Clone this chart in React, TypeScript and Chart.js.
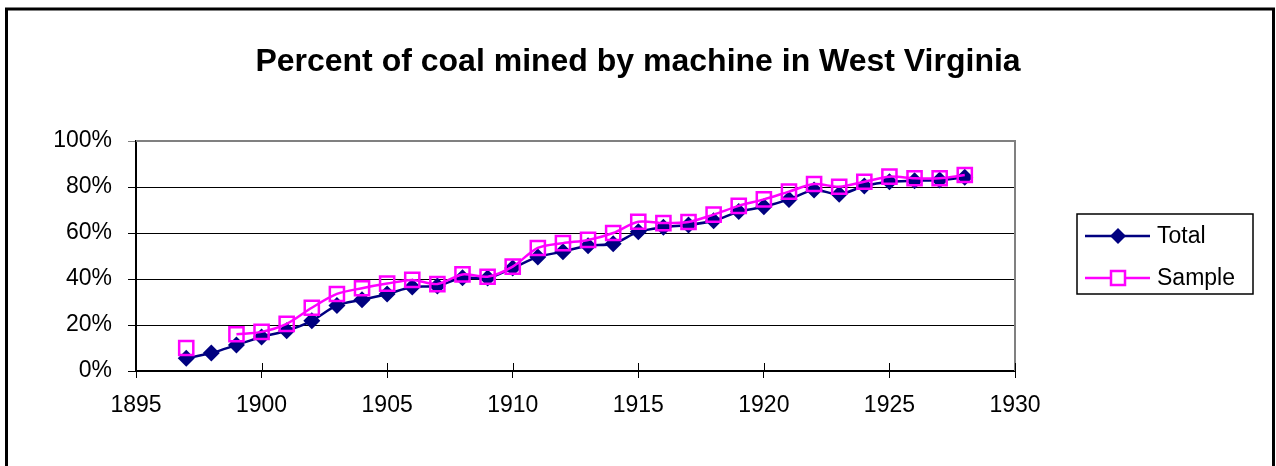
import React, { useEffect, useRef } from 'react';
import { Chart, registerables } from 'chart.js';

Chart.register(...registerables);

const TITLE = 'Percent of coal mined by machine in West Virginia';
const SERIES_NAMES = ['Total', 'Sample'];
const YEARS = [
  1897, 1898, 1899, 1900, 1901, 1902, 1903, 1904, 1905, 1906, 1907, 1908, 1909, 1910, 1911, 1912,
  1913, 1914, 1915, 1916, 1917, 1918, 1919, 1920, 1921, 1922, 1923, 1924, 1925, 1926, 1927, 1928,
];
const TOTAL = [
  5.5, 7.8, 11.3, 14.8, 17.5, 21.8, 28.5, 31, 33.5, 36.5, 37, 40.5, 40.4, 44.8, 49.6, 51.9,
  54.5, 55.3, 60.5, 62.5, 63.5, 65.3, 69.3, 71.4, 74.6, 78.7, 76.8, 80.4, 82.3, 82.7, 83, 84.2,
];
const SAMPLE = [
  10, null, 16, 17, 20.5, 27.5, 33.5, 36, 38, 39.6, 37.8, 42, 41, 45.4, 53.5, 55.6,
  57, 60, 64.9, 64.3, 64.8, 68, 71.8, 74.6, 78, 81.3, 80.1, 82.3, 84.5, 83.8, 83.8, 85.2,
];
const X_TICKS = [1895, 1900, 1905, 1910, 1915, 1920, 1925, 1930];
const Y_TICKS = [0, 20, 40, 60, 80, 100];

const NAVY = '#000080';
const MAGENTA = '#FF00FF';
const FONT = "'Liberation Sans', Arial, sans-serif";

const decorPlugin = {
  id: 'decor',
  beforeDraw(chart: any) {
    const ctx = chart.ctx;
    ctx.save();
    ctx.fillStyle = '#ffffff';
    ctx.fillRect(0, 0, chart.width, chart.height);
    ctx.strokeStyle = '#000000';
    ctx.lineWidth = 3;
    ctx.strokeRect(6.5, 9, 1267, 480);
    ctx.restore();
  },
  beforeDatasetsDraw(chart: any) {
    const ctx = chart.ctx;
    const a = chart.chartArea;
    const x = chart.scales.x;
    ctx.save();
    ctx.strokeStyle = '#808080';
    ctx.lineWidth = 2;
    ctx.beginPath();
    ctx.moveTo(a.left, a.top);
    ctx.lineTo(a.right, a.top);
    ctx.lineTo(a.right, a.bottom);
    ctx.stroke();
    ctx.strokeStyle = '#000000';
    ctx.lineWidth = 1;
    X_TICKS.forEach((t) => {
      const px = Math.round(x.getPixelForValue(t)) + 0.5;
      ctx.beginPath();
      ctx.moveTo(px, a.bottom - 8);
      ctx.lineTo(px, a.bottom);
      ctx.stroke();
    });
    ctx.restore();
  },
  afterDraw(chart: any) {
    const ctx = chart.ctx;
    ctx.save();
    ctx.strokeStyle = '#000000';
    ctx.lineWidth = 1.5;
    ctx.strokeRect(1077, 214, 176, 80);
    const rows = [
      { name: SERIES_NAMES[0], color: NAVY, y: 236, shape: 'diamond' },
      { name: SERIES_NAMES[1], color: MAGENTA, y: 278, shape: 'square' },
    ];
    rows.forEach((r) => {
      ctx.strokeStyle = r.color;
      ctx.lineWidth = 2.5;
      ctx.beginPath();
      ctx.moveTo(1085, r.y);
      ctx.lineTo(1150, r.y);
      ctx.stroke();
      const cx = 1118;
      if (r.shape === 'diamond') {
        ctx.fillStyle = r.color;
        ctx.beginPath();
        ctx.moveTo(cx, r.y - 8);
        ctx.lineTo(cx + 8, r.y);
        ctx.lineTo(cx, r.y + 8);
        ctx.lineTo(cx - 8, r.y);
        ctx.closePath();
        ctx.fill();
      } else {
        ctx.fillStyle = '#ffffff';
        ctx.fillRect(cx - 7, r.y - 7, 14, 14);
        ctx.strokeRect(cx - 7, r.y - 7, 14, 14);
      }
      ctx.fillStyle = '#000000';
      ctx.font = `23px ${FONT}`;
      ctx.textBaseline = 'middle';
      ctx.textAlign = 'left';
      ctx.fillText(r.name, 1157, r.y + 1);
    });
    ctx.restore();
  },
};

export default function App() {
  const ref = useRef<HTMLCanvasElement | null>(null);

  useEffect(() => {
    if (!ref.current) return;
    const chart = new Chart(ref.current, {
      type: 'line',
      data: {
        datasets: [
          {
            label: SERIES_NAMES[1],
            data: YEARS.map((yr, i) => ({ x: yr, y: SAMPLE[i] })),
            borderColor: MAGENTA,
            backgroundColor: 'rgba(0,0,0,0)',
            borderWidth: 2.5,
            pointStyle: 'rect',
            pointRadius: 10,
            pointBorderWidth: 2.5,
            pointBorderColor: MAGENTA,
            pointBackgroundColor: 'rgba(0,0,0,0)',
            tension: 0.3,
            spanGaps: false,
            order: 0,
          },
          {
            label: SERIES_NAMES[0],
            data: YEARS.map((yr, i) => ({ x: yr, y: TOTAL[i] })),
            borderColor: NAVY,
            backgroundColor: NAVY,
            borderWidth: 2.5,
            pointStyle: 'rectRot',
            pointRadius: 8.5,
            pointBorderWidth: 0,
            pointBackgroundColor: NAVY,
            tension: 0.3,
            order: 1,
          },
        ],
      },
      options: {
        responsive: false,
        animation: false,
        events: [],
        layout: { padding: 0 },
        plugins: {
          legend: { display: false },
          tooltip: { enabled: false },
          title: {
            display: true,
            text: TITLE,
            color: '#000000',
            font: { family: FONT, size: 32, weight: 'bold', lineHeight: 1.2 },
            padding: { top: 43, bottom: 59.6 },
          },
        },
        scales: {
          x: {
            type: 'linear',
            min: X_TICKS[0],
            max: X_TICKS[X_TICKS.length - 1],
            afterBuildTicks: (s: any) => {
              s.ticks = X_TICKS.map((v) => ({ value: v }));
            },
            afterFit: (s: any) => {
              s.height = 95;
            },
            ticks: {
              color: '#000000',
              font: { family: FONT, size: 23 },
              padding: 14,
              maxRotation: 0,
              callback: (v: any) => String(v),
            },
            grid: { drawOnChartArea: false, color: '#000000', tickLength: 7, lineWidth: 1 },
            border: { color: '#000000', width: 2 },
          },
          y: {
            min: Y_TICKS[0],
            max: Y_TICKS[Y_TICKS.length - 1],
            afterBuildTicks: (s: any) => {
              s.ticks = Y_TICKS.map((v) => ({ value: v }));
            },
            afterFit: (s: any) => {
              s.width = 136;
            },
            ticks: {
              color: '#000000',
              font: { family: FONT, size: 23 },
              padding: 16,
              callback: (v: any) => `${v}%`,
            },
            grid: {
              color: (c: any) => (c.tick && c.tick.value === 100 ? '#808080' : '#000000'),
              tickLength: 8,
              lineWidth: 1,
            },
            border: { color: '#000000', width: 2 },
          },
          legendSpace: {
            type: 'linear',
            position: 'right',
            display: true,
            min: 0,
            max: 1,
            afterFit: (s: any) => {
              s.width = 261;
            },
            ticks: { display: false },
            grid: { display: false, drawTicks: false },
            border: { display: false },
          },
        },
      },
      plugins: [decorPlugin],
    });
    return () => chart.destroy();
  }, []);

  return (
    <div style={{ position: 'fixed', left: 0, top: 0, width: 1276, height: 466, background: '#fff' }}>
      <canvas ref={ref} width={1276} height={466} style={{ display: 'block' }} />
    </div>
  );
}
